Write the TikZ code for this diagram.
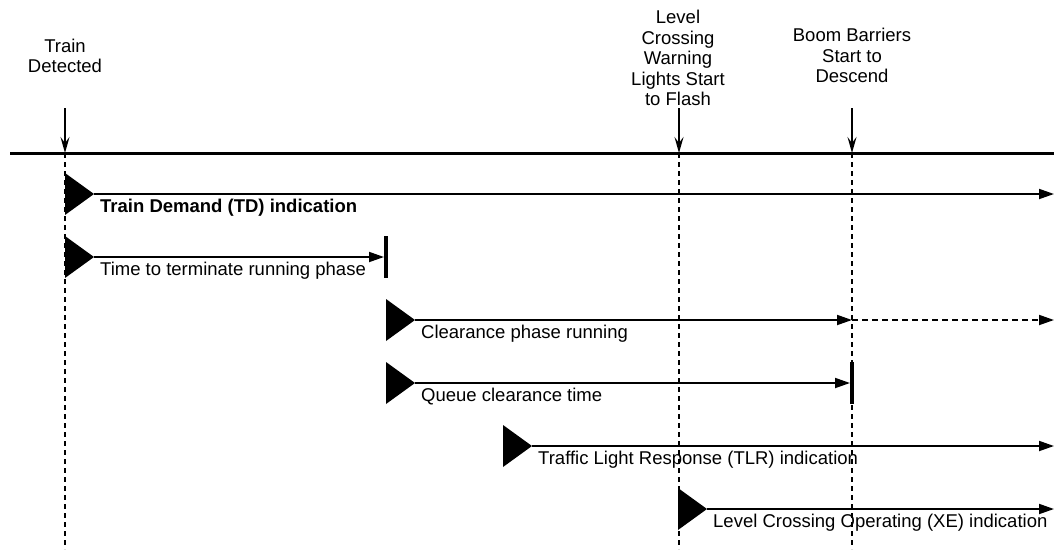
\documentclass[tikz,border=0pt]{standalone}
\usepackage{fontspec}
\setmainfont{Liberation Sans}
\usetikzlibrary{shapes.geometric,arrows.meta}
\newcommand{\Tsize}{\fontsize{18.5}{20.5}\selectfont}
\tikzstyle{starttri} = [isosceles triangle, isosceles triangle stretches, fill=black, draw=none, inner sep=0pt, outer sep=0pt, minimum height=29pt, minimum width=42pt, anchor=west]
\tikzstyle{endbar} = [rectangle, fill=black, draw=none, inner sep=0pt, outer sep=0pt, minimum width=4pt, minimum height=42pt]
\tikzstyle{flow} = [line width=1.8pt, -{Triangle[length=15pt,width=10pt]}]
\tikzstyle{evtext} = [align=center, inner sep=0pt, anchor=south, font=\Tsize]
\tikzstyle{rowtext} = [anchor=base west, inner sep=0pt, xshift=6pt, yshift=-18pt, font=\Tsize]

\begin{document}
\begin{tikzpicture}[x=1pt, y=-1pt, marker/.style={line width=1.5pt, dash pattern=on 5pt off 4pt}]
\useasboundingbox (0,0) rectangle (1054,549);

% Events
\node[evtext] (det)  at (65,73)  {Train\\Detected};
\node[evtext] (lx)   at (678,106) {Level\\Crossing\\Warning\\Lights Start\\to Flash};
\node[evtext] (boom) at (852,83)  {Boom Barriers\\Start to\\Descend};

\coordinate (det-top)  at (65,108);
\coordinate (lx-top)   at (679,108);
\coordinate (boom-top) at (852,108);
\coordinate (det-t)    at (65,153);
\coordinate (lx-t)     at (679,153);
\coordinate (boom-t)   at (852,153);
\coordinate (det-end)  at (65,549);
\coordinate (lx-end)   at (679,549);
\coordinate (boom-end) at (852,549);
\coordinate (tl-a)     at (10,153);
\coordinate (tl-b)     at (1054,153);

\draw[marker] (det-t)  -- (det-end);
\draw[marker] (lx-t)   -- (lx-end);
\draw[marker] (boom-t) -- (boom-end);
\draw[line width=3pt] (tl-a) -- (tl-b);
\draw[line width=1.8pt, -{Stealth[length=16pt,width=9pt,inset=6pt]}] (det-top)  -- (det-t);
\draw[line width=1.8pt, -{Stealth[length=16pt,width=9pt,inset=6pt]}] (lx-top)   -- (lx-t);
\draw[line width=1.8pt, -{Stealth[length=16pt,width=9pt,inset=6pt]}] (boom-top) -- (boom-t);

% Rows
\node[starttri] (td)   at (65,194)  {};
\node[starttri] (term) at (65,257)  {};
\node[starttri] (clr)  at (386,320) {};
\node[starttri] (que)  at (386,383) {};
\node[starttri] (tlr)  at (503,446) {};
\node[starttri] (xe)   at (678,509) {};

\node[endbar] (term-bar) at (386,257) {};
\node[endbar] (que-bar)  at (852,383) {};

\coordinate (td-end)  at (1054,194);
\coordinate (clr-mid) at (852,320);
\coordinate (clr-end) at (1054,320);
\coordinate (tlr-end) at (1054,446);
\coordinate (xe-end)  at (1054,509);

\draw[flow] (td.apex)   -- (td-end);
\draw[flow] (term.apex) -- (term-bar.west);
\draw[flow] (clr.apex)  -- (clr-mid);
\draw[flow, dash pattern=on 6pt off 4pt] (clr-mid) -- (clr-end);
\draw[flow] (que.apex)  -- (que-bar.west);
\draw[flow] (tlr.apex)  -- (tlr-end);
\draw[flow] (xe.apex)   -- (xe-end);

\node[rowtext, font=\Tsize\bfseries] (td-lbl) at (td.apex) {Train Demand (TD) indication};
\node[rowtext] (term-lbl) at (term.apex) {Time to terminate running phase};
\node[rowtext] (clr-lbl)  at (clr.apex)  {Clearance phase running};
\node[rowtext] (que-lbl)  at (que.apex)  {Queue clearance time};
\node[rowtext] (tlr-lbl)  at (tlr.apex)  {Traffic Light Response (TLR) indication};
\node[rowtext] (xe-lbl)   at (xe.apex)   {Level Crossing Operating (XE) indication};
\end{tikzpicture}
\end{document}
